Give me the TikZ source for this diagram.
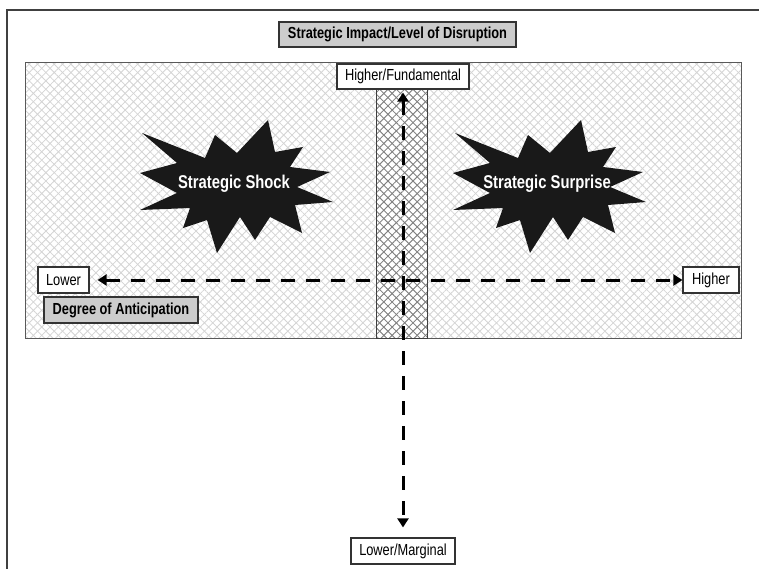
\documentclass[tikz,border=0pt]{standalone}
\usepackage{fontspec}
\setmainfont{Liberation Sans}[FakeStretch=0.8]
\usetikzlibrary{arrows.meta,patterns.meta}

\tikzset{
  label box/.style={draw=black!80, line width=1.2bp, fill=white, inner sep=0pt,
    minimum height=26bp, font=\fontsize{16bp}{18bp}\selectfont},
  title box/.style={label box, fill=black!20, font=\fontsize{16bp}{18bp}\selectfont\bfseries},
  burst text/.style={text=white, inner sep=0pt, font=\fontsize{18.5bp}{20bp}\selectfont\bfseries},
  axis/.style={line width=3bp, dash pattern=on 14bp off 11bp,
    {Triangle[length=9bp,width=11bp]}-{Triangle[length=9bp,width=11bp]}},
  hatch/.style={pattern={Lines[angle=#1,distance=5.9bp,line width=0.8bp]}},
}

\begin{document}
\begin{tikzpicture}[x=1bp,y=-1bp]
\useasboundingbox (0,0) rectangle (759,569);

% Outer frame
\draw[line width=2bp,black!75] (7,569) -- (7,10) -- (759,10);

% Hatched field
\fill[white] (25,63) rectangle (741,338);
\fill[hatch=45,pattern color=black!17] (25,63) rectangle (741,338);
\fill[hatch=-45,pattern color=black!17] (25,63) rectangle (741,338);
\draw[line width=1bp,black!65] (25,63) rectangle (741,338);

% Middle strip
\fill[hatch=45,pattern color=black!50] (376,89) rectangle (427,338);
\fill[hatch=-45,pattern color=black!50] (376,89) rectangle (427,338);
\draw[line width=1bp,black!75] (376,89) rectangle (427,338);

% Bursts
\foreach \cx in {236,549} {
  \fill[black!90,shift={(\cx,187)}] (-94,-54) -- (-31,-29) -- (-21,-52) -- (1,-34)
    -- (32,-67) -- (39,-35) -- (67,-40) -- (54,-20) -- (94,-15) -- (61,0)
    -- (97,15) -- (59,18) -- (66,46) -- (34,30) -- (19,53) -- (4,30)
    -- (-19,66) -- (-29,33) -- (-53,41) -- (-46,21) -- (-96,23) -- (-59,6)
    -- (-96,-14) -- (-59,-24) -- cycle;
}
\node[burst text] (shock) at (234,184) {Strategic Shock};
\node[burst text] (surprise) at (547,184) {Strategic Surprise};

% Labels
\node[title box,minimum width=237bp,minimum height=25bp] (impact) at (397.5,34.5) {Strategic Impact/Level of Disruption};
\node[label box,minimum width=132bp,minimum height=25bp] (hf) at (403,76.5) {Higher/Fundamental};
\node[label box,minimum width=51bp] (lo) at (63.5,280) {Lower};
\node[label box,minimum width=56bp] (hi) at (711,280) {Higher};
\node[title box,minimum width=154bp] (anticip) at (121,310) {Degree of Anticipation};
\node[label box,minimum width=104bp] (lm) at (403,551) {Lower/Marginal};

% Axes
\draw[axis,shorten <=8bp] (lo) -- (hi);
\draw[axis,shorten <=3bp,shorten >=10bp] (hf) -- (lm);
\end{tikzpicture}
\end{document}
